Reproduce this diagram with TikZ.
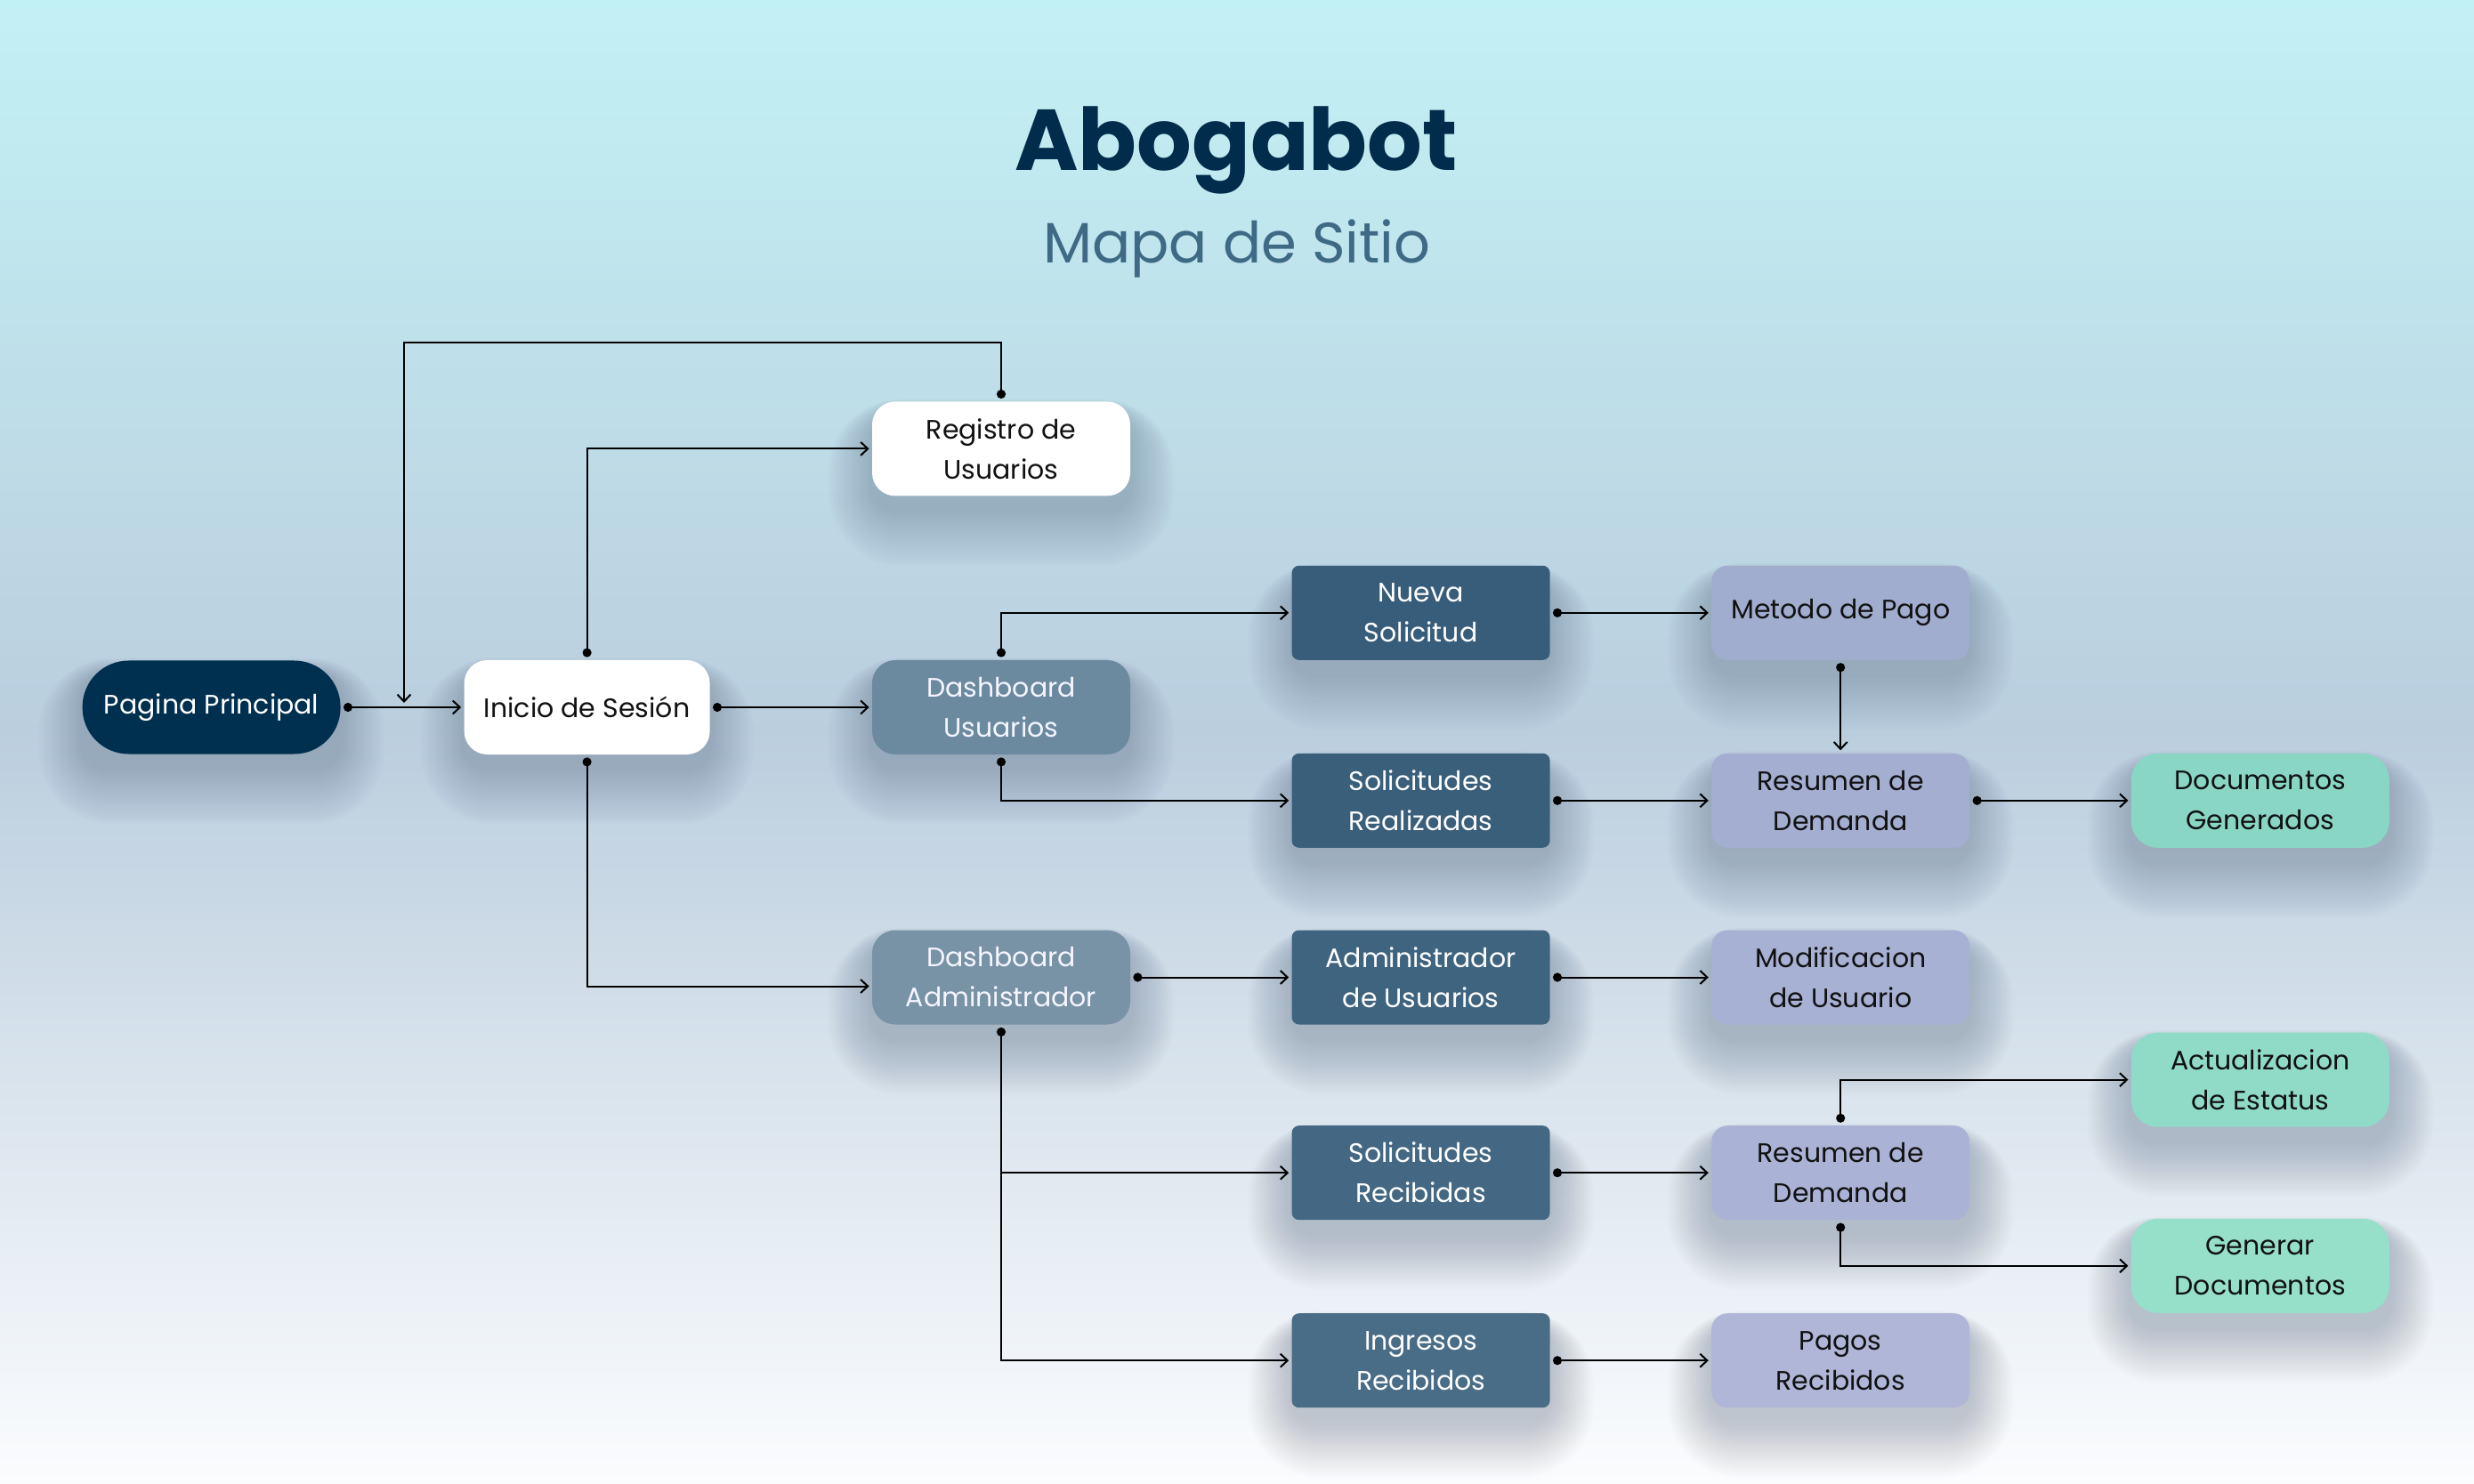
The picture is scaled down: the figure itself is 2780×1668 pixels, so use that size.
\documentclass[tikz,border=0pt]{standalone}
\usepackage{fontspec}
\setmainfont{Poppins}
\usetikzlibrary{arrows.meta}
\pgfdeclarelayer{bglayer}
\pgfsetlayers{bglayer,main}
\definecolor{bgTop}{HTML}{C2F1F5}
\definecolor{bgMid}{HTML}{BBCEDE}
\definecolor{bgBot}{HTML}{FBFCFE}
\definecolor{titleC}{HTML}{012C4B}
\definecolor{subC}{HTML}{3E6A86}
\definecolor{navy}{HTML}{00304F}
\definecolor{dashU}{HTML}{6B8AA0}
\definecolor{dashA}{HTML}{7892A6}
\definecolor{darkA}{HTML}{385D7A}
\definecolor{darkB}{HTML}{3A5F7B}
\definecolor{darkC}{HTML}{3F6480}
\definecolor{darkD}{HTML}{446883}
\definecolor{darkE}{HTML}{496C87}
\definecolor{lavA}{HTML}{A1ADCF}
\definecolor{lavB}{HTML}{A3AED0}
\definecolor{lavC}{HTML}{A7B1D3}
\definecolor{lavD}{HTML}{AAB3D5}
\definecolor{lavE}{HTML}{B0B6D7}
\definecolor{mintA}{HTML}{8AD6C5}
\definecolor{mintB}{HTML}{8FDBC7}
\definecolor{mintC}{HTML}{96DFC9}
\definecolor{inkC}{HTML}{111111}
\definecolor{shadowC}{HTML}{3A4C62}
\begin{document}
\begin{tikzpicture}[x=0.5pt,y=-0.5pt,
  box/.style={draw=none, minimum width=145pt, minimum height=53pt, align=center,
    inner sep=0pt, font=\fontsize{15}{22.5}\selectfont},
  pill/.style={box, fill=navy, text=white, rounded corners=26pt, minimum height=52.5pt},
  whitebox/.style={box, fill=white, text=inkC, rounded corners=13pt},
  dashbox/.style={box, text=white!96!blue, rounded corners=13pt},
  darkbox/.style={box, text=white, rounded corners=4pt},
  lavbox/.style={box, text=inkC, rounded corners=9pt},
  mintbox/.style={box, text=inkC, rounded corners=15pt},
  shadowlayer/.style={fill=shadowC, fill opacity=0.016},
  link/.style={draw=black, line width=1pt,
    {Circle[length=5pt]}-{Straight Barb[length=4pt,width=7.5pt]},
    shorten <=1.5pt, shorten >=1.5pt},
  branch/.style={draw=black, line width=1pt,
    -{Straight Barb[length=4pt,width=7.5pt]}, shorten >=1.5pt}
]
\begin{pgfonlayer}{bglayer}
\useasboundingbox (0,0) rectangle (2780,1668);
\fill[top color=bgTop, bottom color=bgMid] (0,0) rectangle (2780,822);
\fill[top color=bgMid, bottom color=bgBot] (0,820) rectangle (2780,1668);
\end{pgfonlayer}

% titles
\node[anchor=base, text=titleC, font=\fontsize{48.5}{58}\selectfont\bfseries] (title) at (1389,192) {Abogabot};
\node[anchor=base, text=subC, font=\fontsize{32}{38}\selectfont] (subtitle) at (1390,296) {Mapa de Sitio};

% nodes
\node[pill] (pag) at (237.6,795) {\raisebox{-1.5pt}{Pagina Principal}};
\node[whitebox, minimum width=138pt] (ini) at (659.6,795) {\raisebox{-1pt}{Inicio de Sesión}};
\node[whitebox] (reg) at (1125,504.4) {Registro de\\Usuarios};
\node[dashbox, fill=dashU] (dashu) at (1125,795) {Dashboard\\Usuarios};
\node[dashbox, fill=dashA] (dasha) at (1125,1098.5) {Dashboard\\Administrador};

\node[darkbox, fill=darkA] (nueva) at (1596.6,688.8) {Nueva\\Solicitud};
\node[darkbox, fill=darkB] (solreal) at (1596.6,899.8) {Solicitudes\\Realizadas};
\node[darkbox, fill=darkC] (admu) at (1596.6,1098.5) {Administrador\\de Usuarios};
\node[darkbox, fill=darkD] (solrec) at (1596.6,1318.2) {Solicitudes\\Recibidas};
\node[darkbox, fill=darkE] (ing) at (1596.6,1529.2) {Ingresos\\Recibidos};

\node[lavbox, fill=lavA] (met) at (2068.2,688.8) {\raisebox{-1.5pt}{Metodo de Pago}};
\node[lavbox, fill=lavB] (res1) at (2068.2,899.8) {Resumen de\\Demanda};
\node[lavbox, fill=lavC] (modif) at (2068.2,1098.5) {Modificacion\\de Usuario};
\node[lavbox, fill=lavD] (res2) at (2068.2,1318.2) {Resumen de\\Demanda};
\node[lavbox, fill=lavE] (pagos) at (2068.2,1529.2) {Pagos\\Recibidos};

\node[mintbox, fill=mintA] (docgen) at (2539.8,899.8) {Documentos\\Generados};
\node[mintbox, fill=mintB] (act) at (2539.8,1213.6) {Actualizacion\\de Estatus};
\node[mintbox, fill=mintC] (gen) at (2539.8,1422.8) {Generar\\Documentos};

% soft shadows below the nodes
\begin{pgfonlayer}{bglayer}
\foreach \n in {pag,ini,reg,dashu,dasha,nueva,solreal,admu,solrec,ing,met,res1,modif,res2,pagos,docgen,act,gen}{
  \foreach \k in {1,...,18}{
    \pgfmathsetmacro{\g}{\k*1.5}
    \pgfmathsetmacro{\gs}{\k*1.35}
    \pgfmathsetmacro{\gt}{-7+0.3*\g}
    \pgfmathsetmacro{\gb}{-8-1.15*\g}
    \pgfmathsetmacro{\rc}{14+\g}
    \fill[shadowlayer, rounded corners=\rc pt]
      ([xshift=-\gs pt, yshift=\gt pt]\n.north west)
      rectangle ([xshift=\gs pt, yshift=\gb pt]\n.south east);
  }
}
\end{pgfonlayer}

% helper coordinates
\coordinate (loopTop) at (454,385);
\coordinate (loopEnd) at (454,790);

% connectors
\draw[link] (pag.east) -- (ini.west);
\draw[link, shorten >=0pt] (reg.north) |- (loopTop) -- (loopEnd);
\draw[link] (ini.north) |- (reg.west);
\draw[link] (ini.east) -- (dashu.west);
\draw[link] (ini.south) |- ([yshift=-5pt]dasha.west);

\draw[link] (dashu.north) |- (nueva.west);
\draw[link] (dashu.south) |- (solreal.west);
\draw[link] (dasha.east) -- (admu.west);
\draw[link] (dasha.south) |- (ing.west);
\draw[branch] (dasha.south |- solrec.west) -- (solrec.west);

\draw[link] (nueva.east) -- (met.west);
\draw[link] (met.south) -- (res1.north);
\draw[link] (solreal.east) -- (res1.west);
\draw[link] (res1.east) -- (docgen.west);
\draw[link] (admu.east) -- (modif.west);
\draw[link] (solrec.east) -- (res2.west);
\draw[link] (res2.north) |- (act.west);
\draw[link] (res2.south) |- (gen.west);
\draw[link] (ing.east) -- (pagos.west);
\end{tikzpicture}
\end{document}
